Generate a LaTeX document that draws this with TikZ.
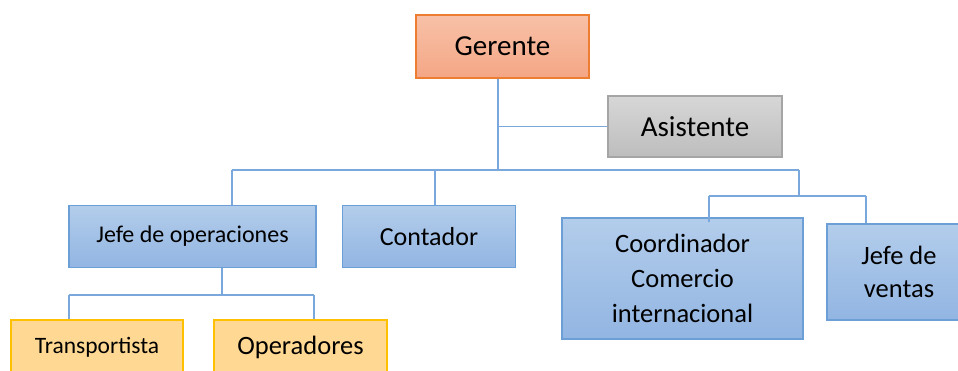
\documentclass[tikz,border=0pt]{standalone}
\usepackage{fontspec}
\setmainfont{Carlito}
\begin{document}
\begin{tikzpicture}[x=1pt,y=-1pt,
  box/.style={rectangle, inner sep=0pt, align=center, line width=1.3pt},
  bluebox/.style={box, top color=blueTop, bottom color=blueBot, draw=blueEdge},
  orangebox/.style={box, top color=orangeTop, bottom color=orangeBot, draw=orangeEdge},
  graybox/.style={box, top color=grayTop, bottom color=grayBot, draw=grayEdge},
  yellowbox/.style={box, fill=yellowFill, draw=yellowEdge},
  link/.style={draw=linkBlue, line width=1.6pt}]
\definecolor{blueTop}{HTML}{B3CDEB}
\definecolor{blueBot}{HTML}{92B5E2}
\definecolor{blueEdge}{HTML}{6C9FD6}
\definecolor{orangeTop}{HTML}{F8C1A8}
\definecolor{orangeBot}{HTML}{F4A685}
\definecolor{orangeEdge}{HTML}{ED7D31}
\definecolor{grayTop}{HTML}{D7D7D7}
\definecolor{grayBot}{HTML}{BDBDBD}
\definecolor{grayEdge}{HTML}{A5A5A5}
\definecolor{yellowFill}{HTML}{FFD993}
\definecolor{yellowEdge}{HTML}{FFC000}
\definecolor{linkBlue}{HTML}{7AA8DC}
\useasboundingbox (0,0) rectangle (958,371);
\clip (0,0) rectangle (958,371);

% boxes
\node[orangebox, minimum width=173pt, minimum height=63pt, font=\fontsize{29}{35}\selectfont] (ger) at (502.5,46.5) {Gerente};
\node[graybox, minimum width=174pt, minimum height=61pt, font=\fontsize{29}{35}\selectfont] (asis) at (695,126.5) {Asistente};
\node[bluebox, minimum width=247pt, minimum height=62pt, font=\fontsize{24}{29}\selectfont] (jo) at (192.5,236.5) {Jefe de operaciones};
\node[bluebox, minimum width=173pt, minimum height=62pt, font=\fontsize{26}{31}\selectfont] (cont) at (429,236.5) {Contador};
\node[bluebox, minimum width=241pt, minimum height=121pt, font=\fontsize{26.5}{35}\selectfont] (coord) at (682.5,278.5) {Coordinador\\Comercio\\internacional};
\node[bluebox, minimum width=144pt, minimum height=96pt, font=\fontsize{26.5}{33}\selectfont] (jv) at (899,272) {Jefe de\\ventas};
\node[yellowbox, minimum width=172pt, minimum height=54pt, font=\fontsize{23.5}{28}\selectfont] (tr) at (97,347) {Transportista};
\node[yellowbox, minimum width=173pt, minimum height=54pt, font=\fontsize{26.5}{32}\selectfont] (op) at (300.5,347) {Operadores};

% junction points of the connector tree
\coordinate (hub) at (498,170);
\coordinate (busL) at (232,170);
\coordinate (busC) at (435,170);
\coordinate (busR) at (799,170);
\coordinate (rightL) at (709,196);
\coordinate (rightR) at (866,196);
\coordinate (subHub) at (222,295);
\coordinate (subL) at (69,295);
\coordinate (subR) at (314,295);

% connectors
\draw[link] (ger.south -| hub) -- (hub);
\draw[link] (asis.west -| hub) -- (asis.west);
\draw[link] (busL) -- (busR);
\draw[link] (busL) -- (jo.north -| busL);
\draw[link] (busC) -- (cont.north -| busC);
\draw[link] (busR) -- (busR |- rightL);
\draw[link] (rightL) -- (rightR);
\draw[link] (rightL) -- ([yshift=-5pt]coord.north -| rightL);
\draw[link] (rightR) -- (jv.north -| rightR);
\draw[link] (jo.south -| subHub) -- (subHub);
\draw[link] (subL) -- (subR);
\draw[link] (subL) -- (tr.north -| subL);
\draw[link] (subR) -- (op.north -| subR);
\end{tikzpicture}
\end{document}
